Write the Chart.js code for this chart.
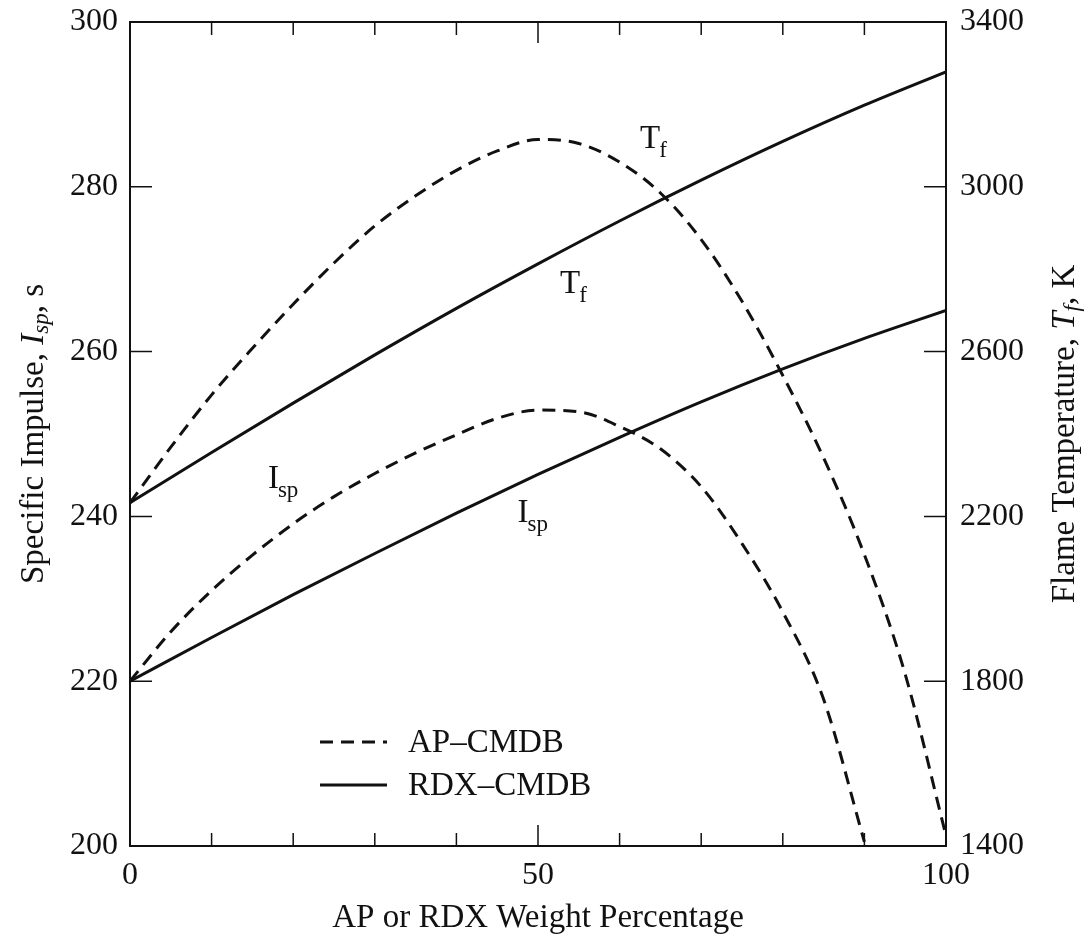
<!DOCTYPE html>
<html>
<head>
<meta charset="utf-8">
<script src="https://cdn.jsdelivr.net/npm/chart.js@4.4.1/dist/chart.umd.min.js"></script>
<style>
  body { margin: 0; background: #fff; }
</style>
</head>
<body>
<canvas id="propChart" width="1092" height="942"></canvas>
<script>
// weight percentage grids
const pctRdx = [0, 10, 20, 30, 40, 50, 60, 70, 80, 90, 100];
const pctAp = [0, 5, 10, 15, 20, 25, 30, 35, 40, 45, 50, 55, 60, 65, 70, 75, 80, 85, 90, 95, 100];

// specific impulse, s (left axis)
const rdxIsp = [220, 225.3, 230.5, 235.5, 240.4, 245.1, 249.6, 253.9, 257.9, 261.6, 265.0];
const apIsp = [220, 226, 231, 235.3, 239.1, 242.4, 245.2, 247.7, 249.9, 251.9, 252.9, 252.7, 250.9, 248.2, 243.6, 236.7, 228.4, 217.8, 200.5];

// flame temperature, K (right axis)
const rdxTf = [2233, 2355, 2475, 2592, 2705, 2813, 2917, 3016, 3110, 3198, 3279];
const apTf = [2233, 2368, 2495, 2608, 2715, 2815, 2905, 2978, 3040, 3087, 3115, 3105, 3060, 2985, 2872, 2722, 2542, 2342, 2107, 1817, 1425];

// axis ranges / ticks
const xLabelStep = 50, xMinorStep = 10;
const ispMin = 200, ispMax = 300, ispStep = 20;
const tfMin = 1400, tfMax = 3400, tfStep = 400;

// curve labels placed in data units (x %, Isp)
const curveNotes = [
    { main: 'T', sub: 'f', x: 62.5, y: 284.7 },
    { main: 'T', sub: 'f', x: 52.7, y: 267.1 },
    { main: 'I', sub: 'sp', x: 16.9, y: 243.4 },
    { main: 'I', sub: 'sp', x: 47.5, y: 239.3 }
];

const FONT = '"Liberation Serif", "Times New Roman", serif';
const INK = '#111';
const DASH = [13, 8];

function pts(xs, ys) {
    return ys.map((v, i) => ({ x: xs[i], y: v }));
}

// draws a run of text pieces (with subscripts) centred on 0,0
function drawRich(ctx, parts) {
    let total = 0;
    parts.forEach(p => { ctx.font = p.font; total += ctx.measureText(p.t).width; });
    let x = -total / 2;
    parts.forEach(p => {
        ctx.font = p.font;
        ctx.fillText(p.t, x, p.dy || 0);
        x += ctx.measureText(p.t).width;
    });
}

const decorPlugin = {
    id: 'decor',
    afterDraw(chart) {
        const ctx = chart.ctx;
        const a = chart.chartArea;
        const xs = chart.scales.x, yl = chart.scales.yIsp, yr = chart.scales.yTf;
        ctx.save();
        ctx.strokeStyle = INK;
        ctx.fillStyle = INK;

        // frame
        ctx.lineWidth = 2;
        ctx.strokeRect(a.left, a.top, a.right - a.left, a.bottom - a.top);

        // inward ticks
        ctx.lineWidth = 1.5;
        ctx.beginPath();
        for (let v = 0; v <= 100; v += xMinorStep) {
            const px = xs.getPixelForValue(v);
            const len = (v % xLabelStep === 0) ? 21 : 13;
            ctx.moveTo(px, a.bottom); ctx.lineTo(px, a.bottom - len);
            ctx.moveTo(px, a.top); ctx.lineTo(px, a.top + len);
        }
        for (let v = ispMin; v <= ispMax; v += ispStep) {
            const py = yl.getPixelForValue(v);
            ctx.moveTo(a.left, py); ctx.lineTo(a.left + 22, py);
        }
        for (let v = tfMin; v <= tfMax; v += tfStep) {
            const py = yr.getPixelForValue(v);
            ctx.moveTo(a.right, py); ctx.lineTo(a.right - 22, py);
        }
        ctx.stroke();

        ctx.textBaseline = 'alphabetic';
        ctx.textAlign = 'left';

        // curve labels
        curveNotes.forEach(n => {
            const px = xs.getPixelForValue(n.x);
            const py = yl.getPixelForValue(n.y);
            ctx.font = '33px ' + FONT;
            ctx.fillText(n.main, px, py);
            const w = ctx.measureText(n.main).width;
            ctx.font = '23px ' + FONT;
            ctx.fillText(n.sub, px + w - 1, py + 9);
        });

        // legend
        const lx = 320, lx2 = 387;
        ctx.lineWidth = 3;
        ctx.setLineDash(DASH);
        ctx.beginPath(); ctx.moveTo(lx, 742); ctx.lineTo(lx2, 742); ctx.stroke();
        ctx.setLineDash([]);
        ctx.beginPath(); ctx.moveTo(lx, 785); ctx.lineTo(lx2, 785); ctx.stroke();
        ctx.font = '33px ' + FONT;
        ctx.textBaseline = 'middle';
        ctx.fillText('AP\u2013CMDB', 408, 743);
        ctx.fillText('RDX\u2013CMDB', 408, 786);

        // axis titles
        ctx.textBaseline = 'middle';
        const reg = '33px ' + FONT, ital = 'italic 33px ' + FONT, sub = 'italic 23px ' + FONT;
        ctx.save();
        ctx.translate(34, (a.top + a.bottom) / 2);
        ctx.rotate(-Math.PI / 2);
        drawRich(ctx, [
            { t: 'Specific Impulse, ', font: reg },
            { t: 'I', font: ital },
            { t: 'sp', font: sub, dy: 8 },
            { t: ', s', font: reg }
        ]);
        ctx.restore();

        ctx.save();
        ctx.translate(1065, (a.top + a.bottom) / 2);
        ctx.rotate(-Math.PI / 2);
        drawRich(ctx, [
            { t: 'Flame Temperature, ', font: reg },
            { t: 'T', font: ital },
            { t: 'f', font: sub, dy: 8 },
            { t: ', K', font: reg }
        ]);
        ctx.restore();

        ctx.save();
        ctx.translate((a.left + a.right) / 2, 918);
        drawRich(ctx, [{ t: 'AP or RDX Weight Percentage', font: reg }]);
        ctx.restore();

        ctx.restore();
    }
};

const lineBase = {
    borderColor: INK,
    borderWidth: 3,
    pointRadius: 0,
    fill: false,
    cubicInterpolationMode: 'monotone'
};

const plainTick = v => String(v);

// fixed axis band sizes so the plot box lands where the original has it
function fitY(width) {
    return function (scale) {
        scale.width = width;
        scale.paddingTop = 0;
        scale.paddingBottom = 0;
    };
}

new Chart(document.getElementById('propChart'), {
    type: 'line',
    data: {
        datasets: [
            Object.assign({ label: 'AP-CMDB Tf', data: pts(pctAp, apTf), yAxisID: 'yTf', borderDash: DASH }, lineBase),
            Object.assign({ label: 'RDX-CMDB Tf', data: pts(pctRdx, rdxTf), yAxisID: 'yTf' }, lineBase),
            Object.assign({ label: 'AP-CMDB Isp', data: pts(pctAp, apIsp), yAxisID: 'yIsp', borderDash: DASH }, lineBase),
            Object.assign({ label: 'RDX-CMDB Isp', data: pts(pctRdx, rdxIsp), yAxisID: 'yIsp' }, lineBase)
        ]
    },
    options: {
        responsive: false,
        animation: false,
        layout: { padding: { top: 22, left: 0, right: 0, bottom: 0 } },
        plugins: {
            legend: { display: false },
            tooltip: { enabled: false }
        },
        scales: {
            x: {
                type: 'linear',
                min: 0, max: 100,
                grid: { display: false, drawTicks: false },
                border: { display: false },
                ticks: {
                    stepSize: xLabelStep,
                    padding: 10,
                    color: INK,
                    maxRotation: 0,
                    callback: plainTick,
                    font: { family: FONT, size: 32 }
                },
                afterFit(scale) {
                    scale.height = 96;
                    scale.paddingLeft = 0;
                    scale.paddingRight = 0;
                }
            },
            yIsp: {
                type: 'linear',
                position: 'left',
                min: ispMin, max: ispMax,
                grid: { display: false, drawTicks: false },
                border: { display: false },
                ticks: {
                    stepSize: ispStep,
                    padding: 12,
                    color: INK,
                    callback: plainTick,
                    font: { family: FONT, size: 32 }
                },
                afterFit: fitY(130)
            },
            yTf: {
                type: 'linear',
                position: 'right',
                min: tfMin, max: tfMax,
                grid: { display: false, drawTicks: false },
                border: { display: false },
                ticks: {
                    stepSize: tfStep,
                    padding: 14,
                    color: INK,
                    callback: plainTick,
                    font: { family: FONT, size: 32 }
                },
                afterFit: fitY(146)
            }
        }
    },
    plugins: [decorPlugin]
});
</script>
</body>
</html>
